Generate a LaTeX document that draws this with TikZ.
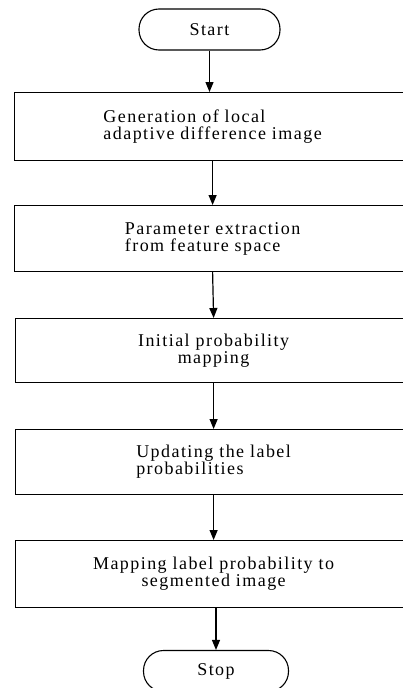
\documentclass[tikz,border=0pt]{standalone}
\usepackage{fontspec}
\setmainfont{Liberation Serif}[LetterSpace=8]
\usetikzlibrary{arrows.meta}
\begin{document}
\begin{tikzpicture}[x=1pt,y=-1pt,
  every node/.style={font=\fontsize{18}{17}\selectfont},
  procbox/.style={draw, line width=1.2pt, minimum width=396pt, anchor=north west, inner sep=0pt},
  term/.style={draw, line width=1.1pt, rounded corners=20pt, minimum height=41pt, inner sep=0pt},
  arr/.style={-{Triangle[length=10pt,width=8pt]}, line width=1.2pt}]
\useasboundingbox (0,0) rectangle (402,688);
\node[term, minimum width=141pt] (start) at (209.5,29.5) {Start};
\node[procbox, minimum height=68pt, align=left] (b1) at (14,92) {Generation of local\\adaptive difference image};
\node[procbox, minimum height=66pt, align=left] (b2) at (14,205) {Parameter extraction\\from feature space};
\node[procbox, minimum height=64pt, align=center] (b3) at (15,318) {Initial probability\\mapping};
\node[procbox, minimum height=65pt, align=left] (b4) at (15,429) {Updating the label\\probabilities};
\node[procbox, minimum height=67pt, align=center] (b5) at (15,540) {Mapping label probability to\\segmented image};
\node[term, minimum width=145pt] (stop) at (216,671) {Stop};
\draw[arr] (start.south) -- (start.south |- b1.north);
\draw[arr] (b1.south) -- (b2.north);
\draw[arr] (b2.south) -- (b3.north);
\draw[arr] (b3.south) -- (b4.north);
\draw[arr] (b4.south) -- (b5.north);
\draw[arr] (b5.south -| stop.north) -- (stop.north);
\end{tikzpicture}
\end{document}
